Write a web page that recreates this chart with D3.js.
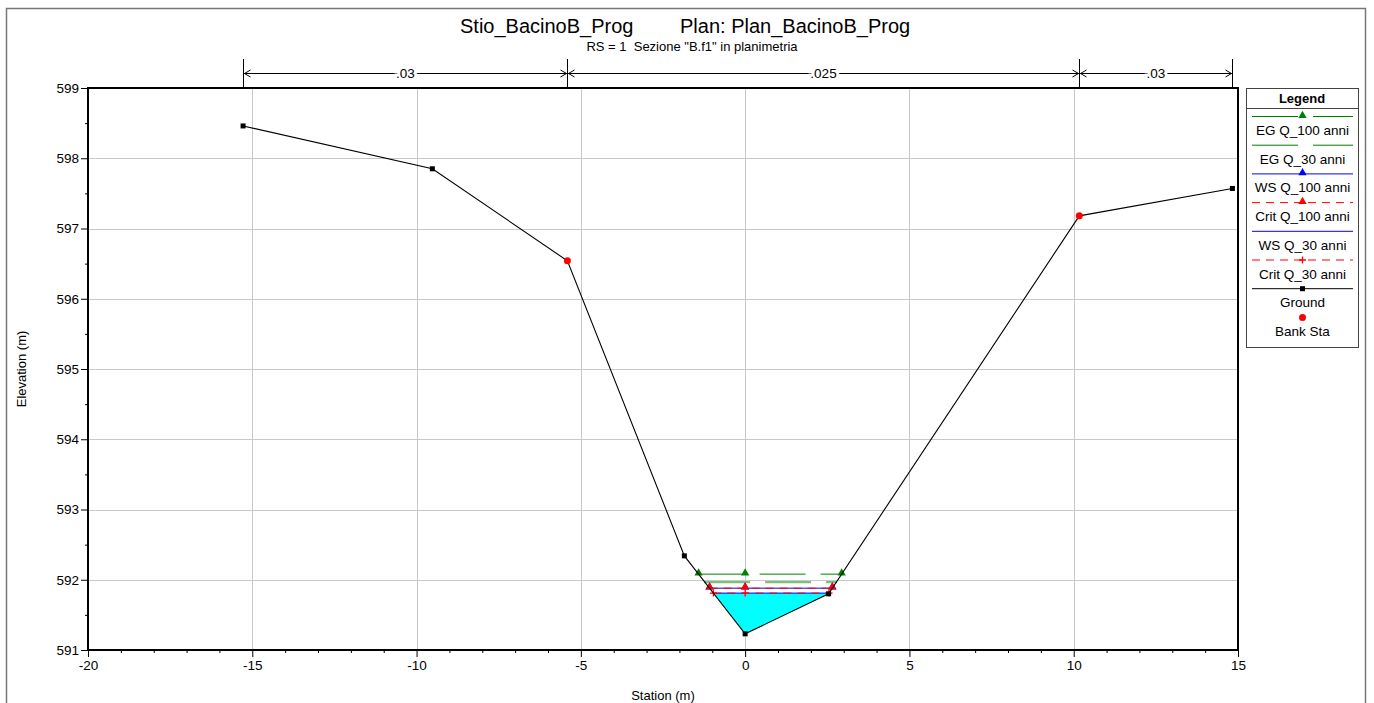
<!DOCTYPE html>
<html>
<head>
<meta charset="utf-8">
<script src="https://cdn.jsdelivr.net/npm/d3@7"></script>
<style>
  body { margin: 0; background: #fff; }
  text { font-family: "Liberation Sans", Arial, sans-serif; fill: #000; }
</style>
</head>
<body>
<div id="chart"></div>
<script>
// cross section data
var stations = [-15.28, -9.52, -5.41, -1.85, 0.0, 2.54, 10.17, 14.83];
var elevations = [598.46, 597.85, 596.54, 592.34, 591.23, 591.80, 597.18, 597.57];
var bankStations = [-5.41, 10.17];
var nBreaks = [-15.28, -5.41, 10.17, 14.83];
var nValues = [".03", ".025", ".03"];

// water surface profiles
var profileNames = ["EG Q_100 anni", "EG Q_30 anni", "WS Q_100 anni", "Crit Q_100 anni", "WS Q_30 anni", "Crit Q_30 anni"];
var profileElev = [592.08, 591.98, 591.88, 591.88, 591.81, 591.81];
var legendNames = profileNames.concat(["Ground", "Bank Sta"]);

var xTicks = [-20, -15, -10, -5, 0, 5, 10, 15];
var yTicks = [591, 592, 593, 594, 595, 596, 597, 598, 599];

(function() {
  var width = 1374, height = 703;
  var left = 88, right = 1238, top = 88, bottom = 650;

  var svg = d3.select("#chart").append("svg")
    .attr("width", width)
    .attr("height", height);

  var x = d3.scaleLinear().domain([-20, 15]).range([left, right]);
  var y = d3.scaleLinear().domain([591, 599]).range([bottom, top]);

  // style for each profile, same order as profileNames
  var styles = [
    {color: "#008000", dash: "46,15", marker: "tri"},
    {color: "#008000", dash: "46,15", marker: null},
    {color: "#0000ff", dash: null, marker: "tri"},
    {color: "#ff0000", dash: "8,6", marker: "tri"},
    {color: "#0000ff", dash: null, marker: null},
    {color: "#ff0000", dash: "8,6", marker: "plus"}
  ];

  // outer frame
  svg.append("rect")
    .attr("x", 6.5).attr("y", 8.5)
    .attr("width", 1359).attr("height", 720)
    .attr("fill", "none").attr("stroke", "#777").attr("stroke-width", 1.5);

  // titles
  svg.append("text").attr("x", 460).attr("y", 33)
    .style("font-size", "20px").text("Stio_BacinoB_Prog");
  svg.append("text").attr("x", 680).attr("y", 33)
    .style("font-size", "20px").text("Plan: Plan_BacinoB_Prog");
  svg.append("text").attr("x", 692).attr("y", 51)
    .attr("text-anchor", "middle")
    .style("font-size", "13px").style("white-space", "pre")
    .text("RS = 1  Sezione \"B.f1\" in planimetria");

  // grid
  var grid = svg.append("g").attr("stroke", "#c8c8c8").attr("stroke-width", 1);
  grid.selectAll(".gx").data(xTicks.slice(1, -1)).enter().append("line")
    .attr("x1", function(d) { return Math.round(x(d)) + 0.5; })
    .attr("x2", function(d) { return Math.round(x(d)) + 0.5; })
    .attr("y1", top).attr("y2", bottom);
  grid.selectAll(".gy").data(yTicks.slice(1, -1)).enter().append("line")
    .attr("y1", function(d) { return Math.round(y(d)) + 0.5; })
    .attr("y2", function(d) { return Math.round(y(d)) + 0.5; })
    .attr("x1", left).attr("x2", right);

  // where a water level meets the ground on both sides of the thalweg
  function edges(level) {
    var lo = elevations.indexOf(d3.min(elevations));
    var i = lo, j = lo;
    while (i > 0 && elevations[i - 1] < level) i--;
    while (j < elevations.length - 1 && elevations[j + 1] < level) j++;
    var a = stations[i - 1] + (elevations[i - 1] - level) / (elevations[i - 1] - elevations[i]) * (stations[i] - stations[i - 1]);
    var b = stations[j] + (level - elevations[j]) / (elevations[j + 1] - elevations[j]) * (stations[j + 1] - stations[j]);
    return {a: a, b: b, i: i, j: j};
  }

  // water fill under the lowest WS
  var wsLevel = profileElev[4];
  var e = edges(wsLevel);
  var poly = [[e.a, wsLevel]];
  for (var k = e.i; k <= e.j; k++) poly.push([stations[k], elevations[k]]);
  poly.push([e.b, wsLevel]);
  svg.append("path")
    .attr("d", d3.line().x(function(d) { return x(d[0]); }).y(function(d) { return y(d[1]); })(poly) + "Z")
    .attr("fill", "#00ffff");

  var tri = d3.symbol().type(d3.symbolTriangle).size(30);

  function drawMarker(g, type, cx, cy, color) {
    if (type === "tri") {
      g.append("path").attr("d", tri()).attr("transform", "translate(" + cx + "," + (cy - 1) + ")").attr("fill", color);
    } else if (type === "plus") {
      g.append("path").attr("d", "M-3.5,0H3.5M0,-3.5V3.5").attr("transform", "translate(" + cx + "," + cy + ")")
        .attr("stroke", color).attr("stroke-width", 1.3).attr("fill", "none");
    } else if (type === "square") {
      g.append("rect").attr("x", cx - 2.5).attr("y", cy - 2.5).attr("width", 5).attr("height", 5).attr("fill", color);
    } else if (type === "circle") {
      g.append("circle").attr("cx", cx).attr("cy", cy).attr("r", 3.5).attr("fill", color);
    }
  }

  // profile lines
  var thalweg = stations[elevations.indexOf(d3.min(elevations))];
  var prof = svg.append("g");
  profileElev.forEach(function(level, p) {
    var s = styles[p];
    var ed = edges(level);
    var py = y(level);
    if (p === 1) py = py + 1;
    prof.append("line")
      .attr("x1", x(ed.a)).attr("x2", x(ed.b))
      .attr("y1", py).attr("y2", py)
      .attr("stroke", p === 1 ? "#7cc07c" : s.color)
      .attr("stroke-width", p === 1 ? 2.2 : 1)
      .attr("stroke-dasharray", s.dash);
    if (s.marker) {
      [ed.a, thalweg, ed.b].forEach(function(st) {
        drawMarker(prof, s.marker, x(st), py, s.color);
      });
    }
  });

  // ground
  var ground = svg.append("g");
  ground.append("path")
    .datum(stations.map(function(d, i) { return [d, elevations[i]]; }))
    .attr("d", d3.line().x(function(d) { return x(d[0]); }).y(function(d) { return y(d[1]); }))
    .attr("fill", "none").attr("stroke", "#000").attr("stroke-width", 1.1);
  stations.forEach(function(st, i) {
    if (bankStations.indexOf(st) < 0) drawMarker(ground, "square", x(st), y(elevations[i]), "#000");
  });
  bankStations.forEach(function(st) {
    drawMarker(ground, "circle", x(st), y(elevations[stations.indexOf(st)]), "#ff0000");
  });

  // plot border
  svg.append("rect")
    .attr("x", left).attr("y", top)
    .attr("width", right - left).attr("height", bottom - top)
    .attr("fill", "none").attr("stroke", "#000").attr("stroke-width", 2);

  // axes
  var fmt = function(d) { return String(d); };
  svg.append("g").attr("transform", "translate(" + left + ",0)")
    .call(d3.axisLeft(y).tickValues(yTicks).tickSize(7).tickPadding(2).tickFormat(fmt));
  svg.append("g").attr("transform", "translate(" + left + ",0)")
    .call(d3.axisLeft(y).tickValues(d3.range(591.5, 599, 1)).tickSize(3).tickFormat(""));
  svg.append("g").attr("transform", "translate(0," + bottom + ")")
    .call(d3.axisBottom(x).tickValues(xTicks).tickSize(7).tickPadding(3).tickFormat(fmt));
  svg.append("g").attr("transform", "translate(0," + bottom + ")")
    .call(d3.axisBottom(x).tickValues(d3.range(-20, 16, 1).filter(function(d) { return d % 5 !== 0; })).tickSize(3).tickFormat(""));
  svg.selectAll(".domain").remove();
  svg.selectAll(".tick text").style("font-size", "13.5px").style("font-family", "'Liberation Sans', Arial, sans-serif");
  svg.selectAll(".tick line").attr("stroke", "#000");

  svg.append("text").attr("x", 663).attr("y", 700)
    .attr("text-anchor", "middle").style("font-size", "13px").text("Station (m)");
  svg.append("text").attr("transform", "translate(26,369) rotate(-90)")
    .attr("text-anchor", "middle").style("font-size", "13px").text("Elevation (m)");

  // Manning's n bars
  var nY = 73;
  var nb = svg.append("g").attr("stroke", "#000").attr("stroke-width", 1);
  nBreaks.forEach(function(st) {
    nb.append("line")
      .attr("x1", Math.round(x(st)) + 0.5).attr("x2", Math.round(x(st)) + 0.5)
      .attr("y1", 59).attr("y2", top);
  });
  nValues.forEach(function(v, i) {
    var x0 = Math.round(x(nBreaks[i])) + 0.5, x1 = Math.round(x(nBreaks[i + 1])) + 0.5;
    nb.append("line").attr("x1", x0).attr("x2", x1).attr("y1", nY + 0.5).attr("y2", nY + 0.5);
    nb.append("path").attr("fill", "none")
      .attr("d", "M" + (x0 + 7) + "," + (nY - 3) + "L" + (x0 + 1) + "," + (nY + 0.5) + "L" + (x0 + 7) + "," + (nY + 4));
    nb.append("path").attr("fill", "none")
      .attr("d", "M" + (x1 - 7) + "," + (nY - 3) + "L" + (x1 - 1) + "," + (nY + 0.5) + "L" + (x1 - 7) + "," + (nY + 4));
    svg.append("text")
      .attr("x", (x0 + x1) / 2).attr("y", nY + 5)
      .attr("text-anchor", "middle")
      .style("font-size", "13.5px")
      .style("paint-order", "stroke")
      .attr("stroke", "#fff").attr("stroke-width", 6)
      .text(v);
  });

  // legend
  var lg = svg.append("g");
  var lx0 = 1246, lx1 = 1358;
  lg.append("rect").attr("x", lx0 + 0.5).attr("y", top + 0.5)
    .attr("width", lx1 - lx0).attr("height", 259)
    .attr("fill", "#fff").attr("stroke", "#444").attr("stroke-width", 1);
  lg.append("text").attr("x", (lx0 + lx1) / 2).attr("y", 103)
    .attr("text-anchor", "middle").style("font-size", "13px").style("font-weight", "bold").text("Legend");
  lg.append("line").attr("x1", lx0).attr("x2", lx1 + 1).attr("y1", 108.5).attr("y2", 108.5)
    .attr("stroke", "#444");

  legendNames.forEach(function(name, i) {
    var ly = 116.5 + i * 28.7;
    var cx = (lx0 + lx1) / 2 + 0.5;
    if (i < styles.length) {
      var s = styles[i];
      lg.append("line").attr("x1", 1252).attr("x2", 1353).attr("y1", ly).attr("y2", ly)
        .attr("stroke", s.color).attr("stroke-dasharray", s.dash);
      if (s.marker) drawMarker(lg, s.marker, cx, ly, s.color);
    } else if (name === "Ground") {
      lg.append("line").attr("x1", 1252).attr("x2", 1353).attr("y1", ly).attr("y2", ly).attr("stroke", "#000");
      drawMarker(lg, "square", cx, ly, "#000");
    } else {
      drawMarker(lg, "circle", cx, ly, "#ff0000");
    }
    lg.append("text").attr("x", cx).attr("y", ly + 18.5)
      .attr("text-anchor", "middle").style("font-size", "13.5px").text(name);
  });
})();
</script>
</body>
</html>
